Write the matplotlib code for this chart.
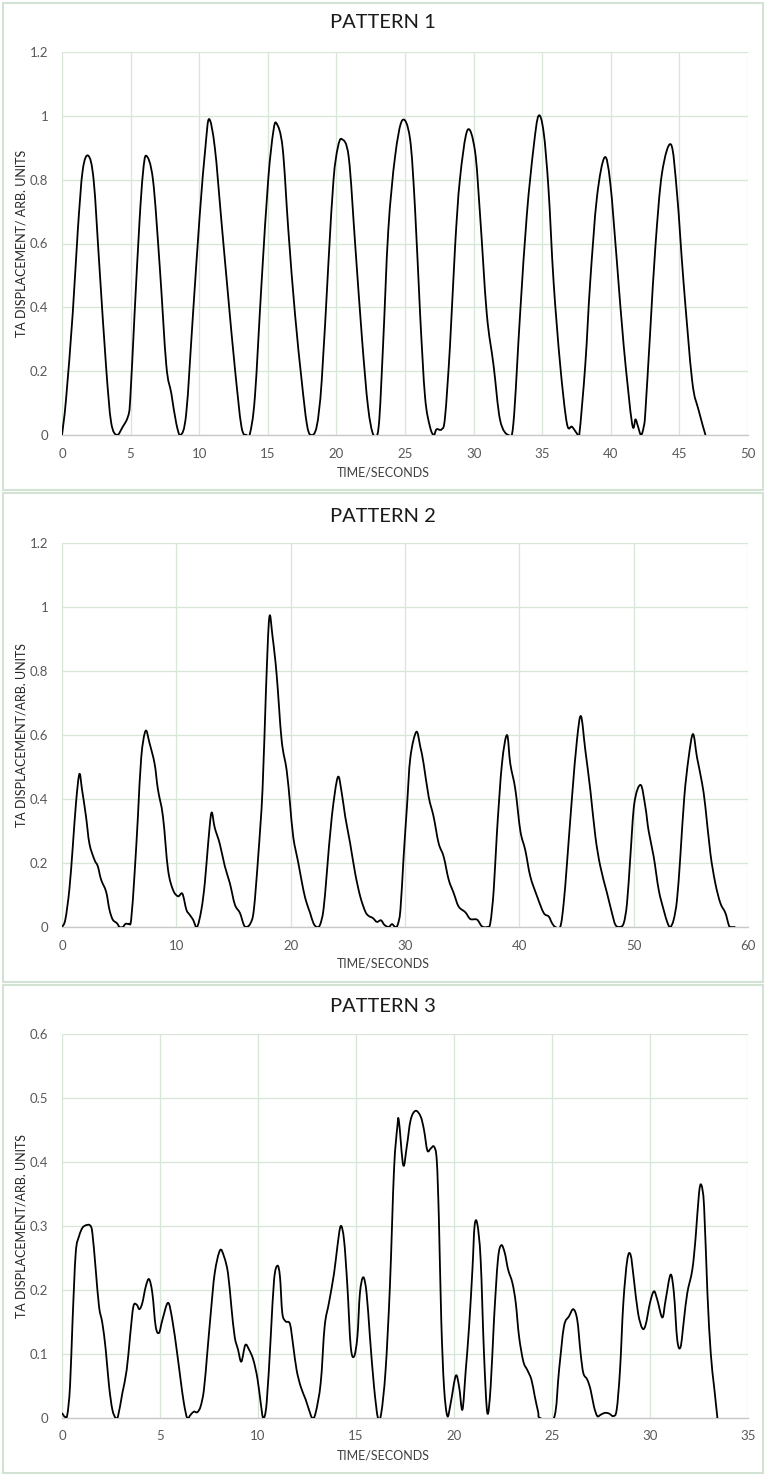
import matplotlib
matplotlib.use("Agg")
import matplotlib.pyplot as plt
from matplotlib.patches import Rectangle, PathPatch
from matplotlib.path import Path

# ---------------- data ----------------
p1_t = [0, 0.29, 0.78, 1.15, 1.51, 1.92, 2.31, 2.73, 3.22, 3.58, 4.0, 4.43, 4.8, 4.97,
        5.29, 5.65, 5.9, 6.14, 6.63, 7.12, 7.6, 7.97, 8.33, 8.65,
        9.06, 9.55, 10.04, 10.45, 10.72, 11.14, 11.62, 12.1, 12.6, 13.08, 13.45, 13.7,
        14.06, 14.55, 15.03, 15.4, 15.64, 16.08, 16.5, 16.98, 17.47, 17.84, 18.13, 18.56,
        18.93, 19.42, 19.79, 20.1, 20.4, 20.9, 21.38, 21.87, 22.3, 22.7, 23.08,
        23.4, 23.78, 24.27, 24.8, 25.36, 25.73, 26.1, 26.46, 26.82, 27.1, 27.3, 27.68, 27.92,
        28.28, 28.65, 29.0, 29.55, 30.1, 30.47, 30.96, 31.45, 31.93, 32.54, 32.9,
        33.39, 33.88, 34.37, 34.73, 35.1, 35.46, 35.83, 36.31, 36.8, 37.17, 37.53, 37.7,
        38.14, 38.5, 38.99, 39.55, 39.96, 40.45, 40.94, 41.55, 41.8, 41.96, 42.2, 42.4, 42.52,
        42.88, 43.25, 43.73, 44.39, 44.83, 45.3, 45.93, 46.4, 46.9]
p1_v = [0, 0.11, 0.38, 0.64, 0.83, 0.875, 0.797, 0.526, 0.21, 0.04, 0, 0.026, 0.057, 0.11,
        0.38, 0.67, 0.82, 0.875, 0.80, 0.53, 0.22, 0.13, 0.036, 0,
        0.07, 0.38, 0.69, 0.90, 0.99, 0.90, 0.67, 0.44, 0.21, 0.026, 0, 0.005,
        0.12, 0.48, 0.80, 0.95, 0.976, 0.90, 0.64, 0.38, 0.17, 0.036, 0, 0.026,
        0.17, 0.54, 0.80, 0.90, 0.927, 0.87, 0.59, 0.30, 0.09, 0, 0.026,
        0.28, 0.64, 0.87, 0.986, 0.93, 0.71, 0.38, 0.12, 0.026, 0, 0.018, 0.018, 0.057,
        0.28, 0.59, 0.80, 0.955, 0.89, 0.69, 0.38, 0.22, 0.047, 0, 0.036,
        0.38, 0.69, 0.90, 1.0, 0.95, 0.77, 0.48, 0.22, 0.036, 0.026, 0.005, 0,
        0.22, 0.48, 0.745, 0.87, 0.79, 0.54, 0.28, 0.036, 0.049, 0.03, 0, 0.026, 0.073,
        0.33, 0.59, 0.82, 0.91, 0.755, 0.48, 0.17, 0.078, 0]

p2_t = [0, 0.29, 0.64, 0.94, 1.23, 1.52, 1.75, 2.1, 2.4, 2.84, 3.13, 3.42, 3.86, 4.15, 4.44,
        4.8, 5.03, 5.32, 5.56, 5.85, 6.05,
        6.35, 6.64, 6.93, 7.31, 7.66, 8.1, 8.39, 8.83, 9.27, 9.71, 10.15, 10.53, 10.88, 11.17,
        11.46, 11.81,
        12.19, 12.49, 12.78, 13.07, 13.36, 13.8, 14.24, 14.68, 15.12, 15.56, 15.9, 16.14,
        16.49, 16.78,
        17.16, 17.54, 17.84, 18.13, 18.42, 18.77, 19.21, 19.65, 19.94, 20.23, 20.67, 21.11,
        21.4, 21.7, 21.99, 22.28, 22.57, 22.87,
        23.16, 23.6, 24.12, 24.47, 24.77, 25.2, 25.64, 26.08, 26.52, 26.81, 27.19, 27.54,
        27.9, 28.19, 28.57, 28.86, 29.15, 29.36, 29.6,
        29.88, 30.17, 30.47, 30.99, 31.34, 31.63, 32.07, 32.5, 32.94, 33.38, 33.82, 34.26,
        34.69, 35.28, 35.71, 36.3, 36.73, 37.17, 37.46,
        37.76, 38.05, 38.48, 38.92, 39.21, 39.65, 40.09, 40.52, 40.96, 41.55, 42.13, 42.57,
        42.86, 43.15, 43.59, 43.88,
        44.17, 44.61, 45.04, 45.39, 45.77, 46.21, 46.65, 47.08, 47.67, 48.1, 48.4, 48.78,
        49.13, 49.42,
        49.71, 50.06, 50.61, 51.02, 51.31, 51.75, 52.19, 52.62, 52.97, 53.21, 53.5, 53.79,
        54.08, 54.43, 54.81, 55.19, 55.54, 55.98, 56.27, 56.71, 57.14, 57.58, 58.02, 58.31,
        58.45, 58.89]
p2_v = [0, 0.023, 0.116, 0.25, 0.39, 0.478, 0.43, 0.345, 0.26, 0.21, 0.19, 0.148, 0.11, 0.054,
        0.023, 0.012, 0, 0, 0.01, 0.01, 0.023,
        0.168, 0.345, 0.53, 0.613, 0.574, 0.51, 0.43, 0.345, 0.18, 0.116, 0.096, 0.104, 0.054,
        0.038, 0.023, 0,
        0.054, 0.137, 0.26, 0.357, 0.31, 0.26, 0.19, 0.137, 0.07, 0.044, 0.007, 0,
        0.012, 0.054,
        0.22, 0.43, 0.74, 0.967, 0.906, 0.79, 0.584, 0.49, 0.387, 0.28, 0.2, 0.116,
        0.075, 0.044, 0.012, 0, 0.007, 0.054,
        0.168, 0.345, 0.468, 0.418, 0.345, 0.262, 0.168, 0.096, 0.049, 0.035, 0.028, 0.016,
        0.021, 0.007, 0, 0.009, 0, 0.007, 0.054,
        0.22, 0.376, 0.53, 0.61, 0.563, 0.51, 0.407, 0.345, 0.262, 0.22, 0.148, 0.106,
        0.064, 0.046, 0.025, 0.023, 0.002, 0, 0.012,
        0.116, 0.3, 0.51, 0.6, 0.51, 0.43, 0.3, 0.24, 0.158, 0.096, 0.044, 0.033,
        0.012, 0, 0.002, 0.075,
        0.2, 0.407, 0.584, 0.659, 0.553, 0.428, 0.283, 0.19, 0.106, 0.044, 0.007, 0,
        0.012, 0.075,
        0.22, 0.387, 0.444, 0.376, 0.3, 0.22, 0.116, 0.054, 0.012, 0, 0.023, 0.085,
        0.22, 0.407, 0.53, 0.603, 0.53, 0.45, 0.376, 0.23, 0.137, 0.075, 0.044, 0.007,
        0, 0]

p3_t = [0, 0.14, 0.27, 0.41, 0.54, 0.7, 0.87, 1.04, 1.21, 1.43, 1.55, 1.72, 1.89, 2.06, 2.23,
        2.4, 2.57, 2.74, 2.86, 3.08, 3.3, 3.47, 3.64, 3.81, 3.95, 4.1, 4.27, 4.44, 4.61, 4.78,
        4.95, 5.12, 5.41, 5.63, 5.88, 6.05, 6.22, 6.39, 6.56, 6.73, 6.9, 7.07, 7.24, 7.41,
        7.59, 7.79, 8.06, 8.27, 8.47, 8.64, 8.81, 8.98, 9.15, 9.35, 9.54, 9.76, 9.97, 10.14,
        10.27, 10.44, 10.65, 10.82, 10.99, 11.12, 11.24, 11.41, 11.63, 11.8, 11.97, 12.18,
        12.43, 12.6, 12.77, 12.94, 13.2, 13.4, 13.62, 13.88, 14.05, 14.22, 14.39, 14.56,
        14.73, 14.9, 15.07, 15.2, 15.37, 15.54, 15.71, 15.92, 16.12, 16.29, 16.51, 16.73,
        16.94, 17.11, 17.19, 17.41, 17.59, 17.79, 18.04, 18.3, 18.47, 18.64, 18.81, 18.98,
        19.12, 19.23, 19.35, 19.49, 19.66, 19.83, 20.09, 20.26, 20.43, 20.6, 20.77, 20.94,
        21.05, 21.19, 21.36, 21.53, 21.7, 21.87, 22.04, 22.24, 22.41, 22.59, 22.76, 22.98,
        23.15, 23.32, 23.54, 23.74, 23.95, 24.12, 24.29, 24.39, 25.1, 25.36, 25.61, 25.87,
        26.09, 26.29, 26.46, 26.6, 26.8, 26.97, 27.14, 27.31, 27.48, 27.69, 27.91, 28.13,
        28.3, 28.47, 28.64, 28.84, 29.01, 29.18, 29.39, 29.61, 29.78, 30.0, 30.2, 30.37,
        30.63, 30.8, 31.05, 31.22, 31.39, 31.56, 31.73, 31.9, 32.16, 32.33, 32.5, 32.62,
        32.76, 32.93, 33.1, 33.27, 33.44]
p3_v = [0.008, 0.002, 0.005, 0.05, 0.153, 0.258, 0.284, 0.297, 0.301, 0.301, 0.289, 0.232,
        0.174, 0.148, 0.107, 0.05, 0.013, 0, 0.003, 0.039, 0.075, 0.127, 0.174, 0.177, 0.17,
        0.18, 0.205, 0.217, 0.195, 0.143, 0.133, 0.153, 0.18, 0.153, 0.1, 0.06, 0.023, 0,
        0.005, 0.01, 0.009, 0.018, 0.044, 0.101, 0.164, 0.226, 0.262, 0.252, 0.226, 0.174,
        0.127, 0.107, 0.088, 0.114, 0.107, 0.091, 0.062, 0.023, 0, 0.023, 0.127, 0.216,
        0.238, 0.221, 0.164, 0.151, 0.147, 0.112, 0.075, 0.049, 0.029, 0.013, 0, 0.008,
        0.055, 0.143, 0.18, 0.226, 0.268, 0.3, 0.278, 0.206, 0.112, 0.096, 0.127, 0.195,
        0.22, 0.195, 0.127, 0.049, 0, 0.008, 0.075, 0.206, 0.388, 0.455, 0.464, 0.395,
        0.424, 0.466, 0.48, 0.471, 0.45, 0.418, 0.421, 0.424, 0.403, 0.31, 0.153, 0.049,
        0.003, 0.023, 0.066, 0.049, 0.013, 0.075, 0.143, 0.232, 0.3, 0.303, 0.247, 0.101,
        0.008, 0.049, 0.153, 0.247, 0.27, 0.258, 0.232, 0.211, 0.18, 0.127, 0.088, 0.075,
        0.06, 0.034, 0.01, 0, 0, 0.075, 0.143, 0.159, 0.17, 0.153, 0.101, 0.07, 0.06, 0.044,
        0.018, 0.003, 0.005, 0.008, 0.007, 0.003, 0.013, 0.075, 0.18, 0.247, 0.255, 0.216,
        0.164, 0.14, 0.146, 0.18, 0.198, 0.185, 0.157, 0.185, 0.224, 0.195, 0.122, 0.111,
        0.153, 0.195, 0.232, 0.283, 0.351, 0.364, 0.33, 0.195, 0.101, 0.049, 0]

titles = ["PATTERN 1", "PATTERN 2", "PATTERN 3"]
ylabels = ["TA DISPLACEMENT/ ARB. UNITS", "TA DISPLACEMENT/ARB. UNITS", "TA DISPLACEMENT/ARB. UNITS"]
xlabel = "TIME/SECONDS"
x_ticks = [[0, 5, 10, 15, 20, 25, 30, 35, 40, 45, 50],
           [0, 10, 20, 30, 40, 50, 60],
           [0, 5, 10, 15, 20, 25, 30, 35]]
y_ticks = [[0, 0.2, 0.4, 0.6, 0.8, 1.0, 1.2],
           [0, 0.2, 0.4, 0.6, 0.8, 1.0, 1.2],
           [0, 0.1, 0.2, 0.3, 0.4, 0.5, 0.6]]
y_ticklabels = [["0", "0.2", "0.4", "0.6", "0.8", "1", "1.2"],
                ["0", "0.2", "0.4", "0.6", "0.8", "1", "1.2"],
                ["0", "0.1", "0.2", "0.3", "0.4", "0.5", "0.6"]]
series = [(p1_t, p1_v), (p2_t, p2_v), (p3_t, p3_v)]


def smooth_path(xs, ys):
    """Excel-style 'smoothed line': Bezier segments through the given points."""
    n = len(xs)
    verts = [(xs[0], ys[0])]
    codes = [Path.MOVETO]
    for i in range(n - 1):
        x0, y0 = (xs[i - 1], ys[i - 1]) if i > 0 else (xs[i], ys[i])
        x1, y1 = xs[i], ys[i]
        x2, y2 = xs[i + 1], ys[i + 1]
        x3, y3 = (xs[i + 2], ys[i + 2]) if i + 2 < n else (x2, y2)
        c1 = (x1 + (x2 - x0) / 6.0, y1 + (y2 - y0) / 6.0)
        c2 = (x2 - (x3 - x1) / 6.0, y2 - (y3 - y1) / 6.0)
        verts += [c1, c2, (x2, y2)]
        codes += [Path.CURVE4] * 3
    return Path(verts, codes)


# ---------------- figure ----------------
W, H = 766, 1475
plt.rcParams['font.family'] = ['Lato', 'DejaVu Sans']
fig = plt.figure(figsize=(W / 100, H / 100), dpi=100)

grid_c = '#d7e6d7'
box_c = '#d3e3d3'
tick_c = '#595959'

panel_boxes = [(3, 3, 490), (3, 493, 982), (3, 985, 1473)]
axes_px = [(52, 435), (543, 927), (1034, 1418)]
title_y = [23, 516, 1007]
left_px, right_px = 62, 748

for i in range(3):
    x0, ytop, ybot = panel_boxes[i]
    fig.patches.append(Rectangle((x0 / W, 1 - ybot / H), (W - 2 * x0) / W, (ybot - ytop) / H,
                                 transform=fig.transFigure, fill=False,
                                 edgecolor=box_c, linewidth=1.5))
    at, ab = axes_px[i]
    ax = fig.add_axes([left_px / W, 1 - ab / H, (right_px - left_px) / W, (ab - at) / H])
    t, v = series[i]
    ax.add_patch(PathPatch(smooth_path(t, v), facecolor='none', edgecolor='black',
                           linewidth=1.3, joinstyle='round', zorder=3))
    ax.set_xlim(x_ticks[i][0], x_ticks[i][-1])
    ax.set_ylim(y_ticks[i][0], y_ticks[i][-1])
    ax.set_xticks(x_ticks[i])
    ax.set_xticklabels([str(x) for x in x_ticks[i]])
    ax.set_yticks(y_ticks[i])
    ax.set_yticklabels(y_ticklabels[i])
    ax.grid(True, color=grid_c, linewidth=0.9)
    ax.set_axisbelow(True)
    for s in ['top', 'right', 'left']:
        ax.spines[s].set_visible(False)
    ax.spines['bottom'].set_color('#c8c8c8')
    ax.spines['bottom'].set_linewidth(1.0)
    ax.spines['bottom'].set_zorder(2)
    ax.tick_params(length=0, labelsize=9.5, colors=tick_c, pad=10)
    ax.tick_params(axis='x', pad=9)
    fig.text(0.5, 1 - title_y[i] / H, titles[i], ha='center', va='center',
             fontsize=14.5, color='#1a1a1a')
    fig.text(0.5, 1 - (ab + 37) / H, xlabel, ha='center', va='center',
             fontsize=9, color='#404040')
    fig.text(22 / W, 1 - ((at + ab) / 2) / H, ylabels[i], ha='center', va='center',
             rotation=90, fontsize=9, color='#262626')

fig.savefig('out.png', dpi=100, facecolor='white')
